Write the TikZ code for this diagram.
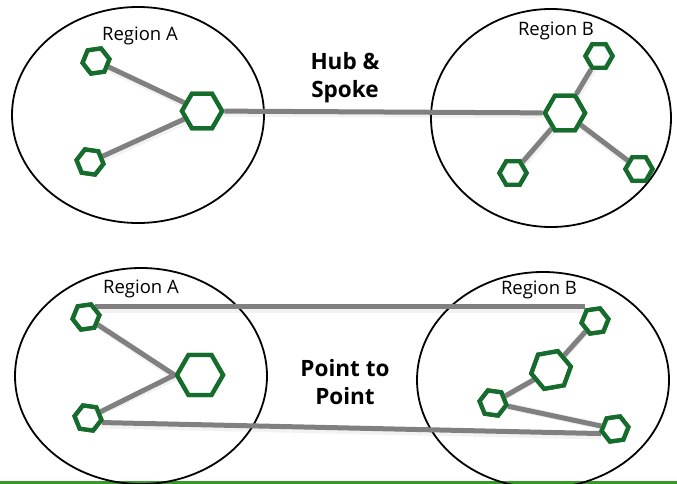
\documentclass[tikz,border=0pt]{standalone}
\usepackage{fontspec}
\setmainfont{Open Sans}
\usetikzlibrary{shapes.geometric}
\definecolor{hexgreen}{RGB}{22,108,44}
\definecolor{linkgray}{RGB}{128,128,128}
\definecolor{bargreen}{RGB}{56,152,42}
\tikzset{
  region/.style={draw=black, line width=1.8pt, ellipse, inner sep=0pt},
  hexs/.style={draw=hexgreen, fill=white, line width=4.3pt, regular polygon, regular polygon sides=6, inner sep=0pt, minimum size=27pt},
  hexb/.style={hexs, minimum size=40pt},
  link/.style={draw=linkgray, line width=5pt},
  shadowlink/.style={draw=black, opacity=0.05, line width=7pt},
  rlabel/.style={font=\fontsize{18.5}{20}\selectfont, inner sep=0pt},
  title/.style={font=\bfseries\fontsize{22.5}{28}\selectfont, align=center, inner sep=0pt},
}
\begin{document}
\begin{tikzpicture}[x=1pt,y=-1pt]
\useasboundingbox (0,0) rectangle (677,484);
\fill[white] (0,0) rectangle (677,484);
% green bar
\fill[bargreen] (0,481) rectangle (677,484);

% ---------- Hub & Spoke ----------
\node[region, minimum width=252pt, minimum height=216pt] (eA) at (138,115) {};
\node[region, minimum width=240pt, minimum height=218pt] (eB) at (551,118) {};
\node[rlabel] (lA) at (140,36) {Region A};
\node[rlabel] (lB) at (556,31) {Region B};
\node[title] (t1) at (345,78) {Hub \&\\Spoke};

\node[hexs, rotate=8] (a1) at (96,61) {};
\node[hexb] (ha) at (202,111) {};
\node[hexs, rotate=-8] (a2) at (90,162) {};
\node[hexb] (hb) at (565,113) {};
\node[hexs] (b1) at (599,56) {};
\node[hexs] (b2) at (513,173) {};
\node[hexs] (b3) at (639,169) {};

\foreach \u/\v in {a1/ha, a2/ha, ha/hb, hb/b1, hb/b2, hb/b3}{
  \draw[shadowlink] ([shift={(1,2)}]\u.center) -- ([shift={(1,2)}]\v.center);
}
\foreach \u/\v in {a1/ha, a2/ha, ha/hb, hb/b1, hb/b2, hb/b3}{
  \draw[link] (\u) -- (\v);
}
% redraw hexagons on top
\node[hexs, rotate=8] at (96,61) {};
\node[hexb] at (202,111) {};
\node[hexs, rotate=-8] at (90,162) {};
\node[hexb] at (565,113) {};
\node[hexs] at (599,56) {};
\node[hexs] at (513,173) {};
\node[hexs] at (639,169) {};

% ---------- Point to Point ----------
\node[region, minimum width=252pt, minimum height=216pt] (eC) at (141,376) {};
\node[region, minimum width=252pt, minimum height=216pt] (eD) at (543,380) {};
\node[rlabel] (lC) at (141,289) {Region A};
\node[rlabel] (lD) at (539,290) {Region B};
\node[title] (t2) at (345,382) {Point to\\Point};

\node[hexs, rotate=8] (c1) at (86,317) {};
\node[hexb, minimum size=46pt] (hc) at (200,375) {};
\node[hexs, rotate=-8] (c2) at (88,418) {};
\node[hexs, rotate=8] (d1) at (595,321) {};
\node[hexb, rotate=10] (hd) at (551,370) {};
\node[hexs, rotate=-8] (d2) at (493,403) {};
\node[hexs, rotate=8] (d3) at (615,429) {};

\draw[shadowlink] ([shift={(0,2.5)}]c1.40) -- ([shift={(0,2.5)}]c1.40 -| d1.125);
\draw[shadowlink] ([shift={(0,2.5)}]c2.-10) -- ([shift={(0,2.5)}]d3.190);
\foreach \u/\v in {c1/hc.west, c2/hc.west, d1/hd, hd/d2, d2/d3}{
  \draw[shadowlink] ([shift={(1,2)}]\u) -- ([shift={(1,2)}]\v);
}
\draw[link] (c1.40) -- (c1.40 -| d1.125);
\draw[link] (c1) -- (hc.west);
\draw[link] (c2) -- (hc.west);
\draw[link] (c2.-10) -- (d3.190);
\draw[link] (d1) -- (hd);
\draw[link] (hd) -- (d2);
\draw[link] (d2) -- (d3);

\node[hexs, rotate=8] at (86,317) {};
\node[hexb, minimum size=46pt] at (200,375) {};
\node[hexs, rotate=-8] at (88,418) {};
\node[hexs, rotate=8] at (595,321) {};
\node[hexb, rotate=10] at (551,370) {};
\node[hexs, rotate=-8] at (493,403) {};
\node[hexs, rotate=8] at (615,429) {};
\end{tikzpicture}
\end{document}
